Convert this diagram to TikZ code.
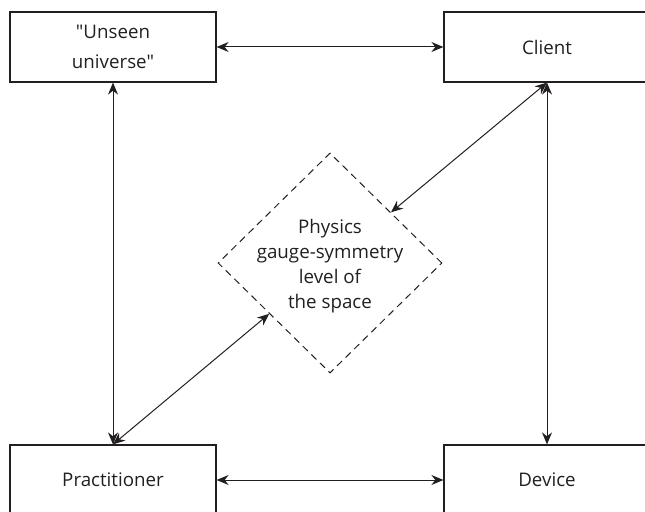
\documentclass[tikz,border=0pt]{standalone}
\usepackage{fontspec}
\setmainfont{Open Sans}[Ligatures=TeXOff]
\usetikzlibrary{shapes.geometric,arrows.meta}
\definecolor{ink}{HTML}{231F20}
\begin{document}
\begin{tikzpicture}[x=1bp,y=-1bp,
  box/.style={draw=ink,line width=1.2bp,minimum width=206bp,minimum height=70bp,inner sep=0pt,align=center,font=\fontsize{18.8}{30}\selectfont,text=ink},
  dia/.style={draw=ink,dashed,dash pattern=on 7bp off 5bp,line width=1bp,shape=diamond,minimum width=224bp,minimum height=220bp,inner sep=0pt},
  diatext/.style={inner sep=0pt,align=center,font=\fontsize{18.8}{25}\selectfont,text=ink},
  link/.style={draw=ink,line width=1bp,{Stealth[length=12bp,width=10bp]}-{Stealth[length=12bp,width=10bp]}}]
\useasboundingbox (0,0) rectangle (645,512);
\begin{scope}
\clip (0,0) rectangle (645,512);
\node[box] (uni) at (113,47) {"Unseen\\universe"};
\node[box] (cli) at (547,47) {Client};
\node[box] (pra) at (113,480) {Practitioner};
\node[box] (dev) at (547,480) {Device};
\node[dia] (phy) at (330,263) {};
\node[diatext] (phytext) at (330,266) {Physics\\gauge-symmetry\\level of\\the space};
\draw[link] (uni) -- (cli);
\draw[link] (pra) -- (dev);
\draw[link] (uni.south) -- (pra.north);
\draw[link] (cli.south) -- (dev.north);
\draw[link] (cli.south) -- (phy);
\draw[link] (pra.north) -- (phy);
\end{scope}
\end{tikzpicture}
\end{document}
